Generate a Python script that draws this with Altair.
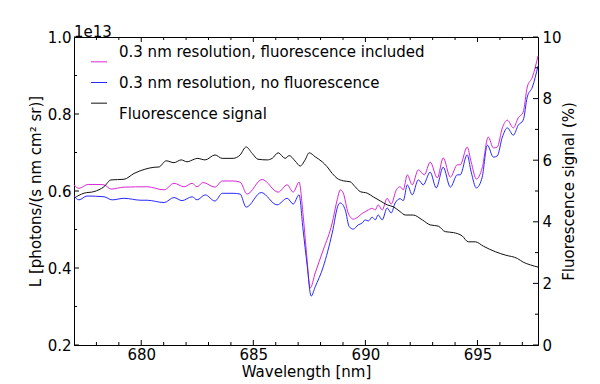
import altair as alt
import pandas as pd

FONT = "DejaVu Sans"
names = ["0.3 nm resolution, fluorescence included",
         "0.3 nm resolution, no fluorescence",
         "Fluorescence signal"]
colors = ["#d826d8", "#2828ff", "#111111"]

# magenta: fluorescence included (units of 1e13)
mag_wl = [677.00, 677.22, 677.63, 677.98, 678.34, 678.65, 679.23, 680.26, 681.02, 681.46,
          681.91, 682.27, 682.49, 682.76, 683.29, 683.61, 684.10, 684.41, 684.72, 685.39,
          686.11, 686.51, 686.78, 687.04, 687.22, 687.36, 687.54, 687.76, 688.12, 688.52,
          688.74, 688.88, 689.01, 689.23, 689.46, 689.68, 689.86, 689.99, 690.13, 690.30,
          690.44, 690.57, 690.75, 690.97, 691.15, 691.38, 691.55, 691.69, 691.87, 692.09,
          692.36, 692.63, 692.89, 693.21, 693.47, 693.79, 694.10, 694.23, 694.54, 694.72,
          694.95, 695.21, 695.48, 695.71, 695.88, 696.11, 696.33, 696.60, 696.82, 697.04,
          697.22, 697.45, 697.70]
mag_val = [0.616, 0.607, 0.617, 0.617, 0.616, 0.605, 0.610, 0.611, 0.603, 0.620,
           0.611, 0.620, 0.611, 0.622, 0.610, 0.626, 0.626, 0.623, 0.592, 0.630,
           0.597, 0.616, 0.597, 0.623, 0.538, 0.447, 0.348, 0.387, 0.447, 0.517,
           0.577, 0.603, 0.595, 0.543, 0.527, 0.533, 0.542, 0.546, 0.551, 0.555,
           0.551, 0.564, 0.551, 0.581, 0.566, 0.603, 0.611, 0.603, 0.642, 0.616,
           0.655, 0.642, 0.675, 0.634, 0.686, 0.636, 0.668, 0.668, 0.714, 0.675,
           0.631, 0.660, 0.740, 0.712, 0.714, 0.764, 0.784, 0.764, 0.790, 0.805,
           0.870, 0.896, 0.951]

# blue: no fluorescence (units of 1e13)
blu_wl = [677.00, 677.22, 677.58, 678.34, 678.70, 679.23, 679.99, 680.26, 681.02, 681.46,
          681.82, 682.27, 682.49, 682.85, 683.29, 683.61, 684.10, 684.41, 684.68, 685.35,
          686.06, 686.51, 686.78, 687.04, 687.22, 687.40, 687.58, 687.76, 688.12, 688.52,
          688.79, 688.88, 689.10, 689.28, 689.46, 689.68, 689.86, 689.99, 690.13, 690.30,
          690.44, 690.57, 690.75, 690.97, 691.15, 691.33, 691.55, 691.69, 691.87, 692.09,
          692.36, 692.58, 692.89, 693.16, 693.47, 693.79, 694.10, 694.23, 694.54, 694.72,
          694.95, 695.21, 695.44, 695.71, 695.88, 696.11, 696.33, 696.60, 696.82, 697.04,
          697.22, 697.45, 697.70]
blu_val = [0.587, 0.577, 0.587, 0.585, 0.577, 0.581, 0.576, 0.576, 0.570, 0.583,
           0.575, 0.585, 0.577, 0.590, 0.574, 0.594, 0.594, 0.592, 0.558, 0.596,
           0.564, 0.581, 0.566, 0.590, 0.499, 0.408, 0.327, 0.351, 0.403, 0.491,
           0.564, 0.569, 0.551, 0.507, 0.501, 0.512, 0.517, 0.525, 0.522, 0.532,
           0.525, 0.538, 0.525, 0.556, 0.543, 0.569, 0.580, 0.575, 0.616, 0.590,
           0.629, 0.616, 0.649, 0.608, 0.662, 0.610, 0.642, 0.642, 0.694, 0.649,
           0.608, 0.636, 0.719, 0.688, 0.691, 0.740, 0.764, 0.745, 0.771, 0.784,
           0.844, 0.870, 0.925]

# black: fluorescence signal (%)
flu_wl = [677.00, 677.45, 677.89, 678.34, 678.65, 679.23, 679.68, 680.13, 680.57, 680.79,
          681.11, 681.46, 681.78, 682.04, 682.36, 682.49, 682.85, 683.29, 683.61, 684.10,
          684.41, 684.68, 684.95, 685.21, 685.62, 685.84, 686.11, 686.42, 686.60, 686.87,
          687.09, 687.31, 687.49, 687.76, 688.07, 688.29, 688.52, 688.74, 689.01, 689.32,
          689.54, 689.77, 690.08, 690.35, 690.66, 690.97, 691.24, 691.55, 691.78, 692.13,
          692.54, 692.89, 693.25, 693.56, 693.92, 694.32, 694.59, 694.90, 695.26, 695.79,
          696.24, 696.78, 697.04, 697.36, 697.70]
flu_val = [4.77, 4.93, 4.98, 5.14, 5.36, 5.38, 5.57, 5.70, 5.77, 5.78,
           5.98, 5.92, 6.01, 5.95, 6.03, 6.06, 6.01, 6.17, 6.06, 6.06,
           6.17, 6.43, 6.22, 6.03, 6.01, 6.06, 6.24, 6.06, 6.15, 5.97,
           5.81, 6.01, 6.24, 6.11, 5.95, 5.79, 5.57, 5.41, 5.33, 5.30,
           5.14, 4.98, 4.93, 4.81, 4.68, 4.55, 4.49, 4.33, 4.22, 4.22,
           4.06, 3.90, 3.86, 3.68, 3.65, 3.54, 3.35, 3.35, 3.21, 3.03,
           2.92, 2.81, 2.69, 2.60, 2.53]

x_major = [680, 685, 690, 695]
x_minor = [678, 679, 681, 682, 683, 684, 686, 687, 688, 689, 691, 692, 693, 694, 696, 697]
yl_major = [0.2, 0.4, 0.6, 0.8, 1.0]
yl_minor = [0.3, 0.5, 0.7, 0.9]
yr_major = [0, 2, 4, 6, 8, 10]
yr_minor = [1, 3, 5, 7, 9]

W, H = 464, 308
XDOM = [677, 697.7]
LDOM = [0.2, 1.0]
RDOM = [0, 10]

def sc(dom):
    return alt.Scale(domain=dom, nice=False, zero=False)

left_df = pd.DataFrame({
    "wl": mag_wl + blu_wl,
    "val": mag_val + blu_val,
    "series": [names[0]] * len(mag_wl) + [names[1]] * len(blu_wl),
})
right_df = pd.DataFrame({"wl": flu_wl, "val": flu_val, "series": [names[2]] * len(flu_wl)})
legend_df = pd.DataFrame({"series": names})

cscale = alt.Scale(domain=names, range=colors)

left_lines = alt.Chart(left_df).mark_line(strokeWidth=1, interpolate="monotone").encode(
    x=alt.X("wl:Q", scale=sc(XDOM),
            axis=alt.Axis(values=x_major, format="d", title="Wavelength [nm]", orient="bottom",
                          ticks=False, tickSize=0, labelPadding=2, titlePadding=2)),
    y=alt.Y("val:Q", scale=sc(LDOM),
            axis=alt.Axis(values=yl_major, format=".1f", orient="left",
                          title="L [photons/(s nm cm²  sr)]", ticks=False, tickSize=0,
                          labelPadding=3, titlePadding=4)),
    color=alt.Color("series:N", scale=cscale, legend=None),
    detail="series:N",
)

right_line = alt.Chart(right_df).mark_line(strokeWidth=1, interpolate="monotone").encode(
    x=alt.X("wl:Q", scale=sc(XDOM), axis=None),
    y=alt.Y("val:Q", scale=sc(RDOM),
            axis=alt.Axis(values=yr_major, format="d", orient="right",
                          title="Fluorescence signal (%)", titleAngle=270,
                          ticks=False, tickSize=0, labelPadding=4, titlePadding=15)),
    color=alt.Color("series:N", scale=cscale, legend=None),
)

def rule_layer(vals, enc):
    return alt.Chart(pd.DataFrame({"t": vals})).mark_rule(color="black", strokeWidth=1).encode(**enc)

def ty(dom):
    return alt.Y("t:Q", scale=sc(dom), axis=None)

def tx():
    return alt.X("t:Q", scale=sc(XDOM), axis=None)

tick_layers = [
    rule_layer(yl_major, dict(y=ty(LDOM), x=alt.value(0), x2=alt.value(5))),
    rule_layer(yl_minor, dict(y=ty(LDOM), x=alt.value(0), x2=alt.value(3))),
    rule_layer(yr_major, dict(y=ty(RDOM), x=alt.value(W), x2=alt.value(W - 5))),
    rule_layer(yr_minor, dict(y=ty(RDOM), x=alt.value(W), x2=alt.value(W - 3))),
    rule_layer(x_major, dict(x=tx(), y=alt.value(H), y2=alt.value(H - 5))),
    rule_layer(x_minor, dict(x=tx(), y=alt.value(H), y2=alt.value(H - 3))),
    rule_layer(x_major, dict(x=tx(), y=alt.value(0), y2=alt.value(5))),
    rule_layer(x_minor, dict(x=tx(), y=alt.value(0), y2=alt.value(3))),
]

leg_y = alt.Y("series:N", scale=alt.Scale(domain=names, range=[14.5, 76.5], padding=0), axis=None)
legend_lines = alt.Chart(legend_df).mark_rule(strokeWidth=1).encode(
    y=leg_y, x=alt.value(17), x2=alt.value(33),
    color=alt.Color("series:N", scale=cscale, legend=None),
)
legend_text = alt.Chart(legend_df).mark_text(
    align="left", baseline="middle", fontSize=15, font=FONT, color="black"
).encode(y=leg_y, x=alt.value(45), text="series:N")

chart = alt.layer(left_lines, right_line, *tick_layers, legend_lines, legend_text).resolve_scale(
    x="independent", y="independent"
).properties(
    width=W, height=H,
    title=alt.TitleParams("1e13", anchor="start", fontSize=15, font=FONT, fontWeight="normal",
                          offset=-10, color="black", frame="group"),
    padding={"left": 66, "top": 29, "right": 54, "bottom": 38},
    autosize="none",
).configure_view(stroke="black", strokeWidth=1).configure_axis(
    labelFont=FONT, titleFont=FONT, labelFontSize=15, titleFontSize=15,
    titleFontWeight="normal", labelColor="black", titleColor="black",
    domainColor="black", domainWidth=1, grid=False,
)

chart.save("out.html", embed_options={"renderer": "svg", "actions": False})
